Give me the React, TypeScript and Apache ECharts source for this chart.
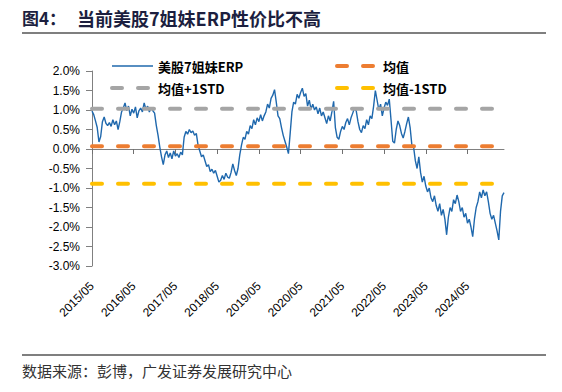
import React, { useEffect, useRef } from "react";
import * as echarts from "echarts";

// ---- data ----
const xTickLabels = [
  "2015/05", "2016/05", "2017/05", "2018/05", "2019/05",
  "2020/05", "2021/05", "2022/05", "2023/05", "2024/05",
];

// ERP of the "Magnificent 7" (%, semi-monthly readings from 2015/05)
const erpValues = [
  0.97, 0.88, 0.72, 0.55, 0.18, 0.32, 0.70, 0.82, 0.66, 0.60,
  0.68, 0.58, 0.75, 0.62, 0.72, 0.50, 0.70, 0.95, 1.05, 1.18,
  0.98, 1.10, 0.85, 1.02, 0.92, 1.08, 0.80, 0.98, 1.05, 0.95,
  1.18, 1.02, 1.10, 0.95, 1.06, 0.98, 0.92, 0.60, 0.35, 0.05,
  -0.20, -0.40, -0.15, -0.05, -0.22, -0.10, -0.25, -0.05, -0.18, -0.12,
  -0.22, -0.08, -0.15, 0.30, 0.45, 0.38, 0.50, 0.42, 0.46, 0.35,
  0.40, 0.10, -0.05, -0.20, -0.15, -0.30, -0.45, -0.40, -0.58, -0.52,
  -0.62, -0.55, -0.70, -0.85, -0.80, -0.68, -0.78, -0.62, -0.72, -0.75,
  -0.60, -0.38, -0.55, -0.68, -0.50, -0.15, 0.10, 0.30, 0.25, 0.45,
  0.38, 0.60, 0.52, 0.75, 0.62, 0.80, 0.70, 0.88, 0.72, 0.85,
  0.95, 1.15, 1.05, 1.30, 1.38, 1.52, 1.20, 0.85, 0.78, 0.55,
  0.35, 0.20, 0.05, -0.12, 0.40, 0.95, 1.20, 1.15, 1.40, 1.30,
  1.45, 1.56, 1.35, 1.42, 1.10, 1.25, 1.02, 1.15, 1.00, 1.08,
  0.90, 1.05, 0.85, 0.95, 0.80, 0.65, 0.85, 0.72, 0.95, 1.22,
  0.55, 0.30, 0.25, 0.45, 0.58, 0.50, 0.68, 0.78, 0.62, 0.80,
  0.92, 1.05, 0.98, 0.70, 0.50, 0.42, 0.60, 0.52, 0.75, 0.62,
  0.85, 0.78, 1.10, 1.50, 1.25, 1.00, 1.15, 0.85, 1.05, 1.20,
  1.12, 1.28, 0.75, 0.20, 0.15, 0.50, 0.72, 0.60, 0.40, 0.28,
  0.45, 0.65, 0.82, 0.55, 0.10, 0.05, -0.30, -0.50, -0.20, -0.60,
  -0.85, -0.70, -0.95, -1.10, -1.00, -1.25, -1.35, -1.20, -1.45, -1.60,
  -1.40, -1.70, -1.55, -1.80, -2.20, -1.75, -1.50, -1.60, -1.30, -1.40,
  -1.18, -1.35, -1.60, -1.50, -1.75, -1.65, -1.90, -1.80, -2.00, -2.25,
  -1.80, -1.50, -1.35, -1.10, -1.25, -1.05, -1.20, -1.10, -1.35, -1.65,
  -1.80, -1.70, -1.90, -2.10, -2.33, -1.60, -1.20, -1.12,
];

const MEAN = 0.07;
const MEAN_PLUS_STD = 1.03;
const MEAN_MINUS_STD = -0.89;

const seriesNames = ["美股7姐妹ERP", "均值", "均值+1STD", "均值-1STD"];
const seriesColors = ["#1f68ad", "#ed7d31", "#a5a5a5", "#ffc000"];

// semi-monthly date categories starting 2015/05
const categories: string[] = erpValues.map((_, i) => {
  const m = 4 + Math.floor(i / 2);
  const year = 2015 + Math.floor(m / 12);
  const month = (m % 12) + 1;
  const day = i % 2 === 0 ? "01" : "15";
  return `${year}/${String(month).padStart(2, "0")}/${day}`;
});

const FONT = "'Liberation Sans', Arial, 'Noto Sans CJK SC', sans-serif";
const CJK = "'Noto Sans CJK SC', 'Liberation Sans', sans-serif";

export default function App() {
  const ref = useRef<HTMLDivElement>(null);

  useEffect(() => {
    if (!ref.current) return;
    const chart = echarts.init(ref.current, undefined, { renderer: "svg" });

    const dashStyle = (color: string) => ({
      color,
      width: 4,
      type: [10, 16] as number[],
      cap: "round" as const,
    });

    const flat = (v: number) => categories.map(() => v);

    const legendCommon = {
      orient: "vertical",
      top: 58,
      padding: 0,
      itemWidth: 41,
      itemHeight: 16,
      itemGap: 6,
      itemStyle: { opacity: 0 },
      textStyle: { fontSize: 13, fontWeight: "bold", color: "#000", fontFamily: CJK, lineHeight: 16 },
    };

    const legendItem = (i: number) =>
      i === 0
        ? { name: seriesNames[0], lineStyle: { color: seriesColors[0], width: 1.5, type: "solid" } }
        : { name: seriesNames[i], lineStyle: dashStyle(seriesColors[i]) };

    chart.setOption({
      animation: false,
      backgroundColor: "#ffffff",
      grid: { left: 92, right: 58, top: 71, bottom: 126, containLabel: false },
      legend: [
        { ...legendCommon, data: [legendItem(0), legendItem(2)], left: 110 },
        { ...legendCommon, data: [legendItem(1), legendItem(3)], left: 335 },
      ],
      xAxis: [
        {
          type: "category",
          data: categories,
          boundaryGap: false,
          position: "bottom",
          axisLine: { show: false, onZero: false },
          axisTick: { show: false },
          splitLine: { show: false },
          axisLabel: {
            interval: 23,
            rotate: 45,
            margin: 18,
            fontSize: 12,
            color: "#000",
            fontFamily: FONT,
            formatter: (_v: string, idx: number) =>
              idx % 24 === 0 ? xTickLabels[idx / 24] ?? "" : "",
          },
        },
        {
          type: "category",
          data: categories,
          boundaryGap: false,
          position: "top",
          axisLine: { show: true, onZero: true, lineStyle: { color: "#808080", width: 1 } },
          axisTick: { show: true, inside: true, interval: 23, length: 5, lineStyle: { color: "#707070", width: 1 } },
          axisLabel: { show: false },
          splitLine: { show: false },
        },
      ],
      yAxis: {
        type: "value",
        min: -3,
        max: 2,
        interval: 0.5,
        axisLine: { show: true, lineStyle: { color: "#808080", width: 1 } },
        axisTick: { show: true, length: 6, lineStyle: { color: "#808080" } },
        splitLine: { show: false },
        axisLabel: {
          margin: 12,
          fontSize: 12,
          color: "#000",
          fontFamily: FONT,
          formatter: (v: number) => `${v.toFixed(1)}%`,
        },
      },
      series: [
        {
          name: seriesNames[0],
          type: "line",
          data: erpValues,
          symbol: "none",
          lineStyle: { color: seriesColors[0], width: 1.4 },
          itemStyle: { color: seriesColors[0] },
          z: 2,
        },
        {
          name: seriesNames[1],
          type: "line",
          data: flat(MEAN),
          symbol: "none",
          lineStyle: dashStyle(seriesColors[1]),
          itemStyle: { color: seriesColors[1] },
          z: 3,
        },
        {
          name: seriesNames[2],
          type: "line",
          data: flat(MEAN_PLUS_STD),
          symbol: "none",
          lineStyle: dashStyle(seriesColors[2]),
          itemStyle: { color: seriesColors[2] },
          z: 3,
        },
        {
          name: seriesNames[3],
          type: "line",
          data: flat(MEAN_MINUS_STD),
          symbol: "none",
          lineStyle: dashStyle(seriesColors[3]),
          itemStyle: { color: seriesColors[3] },
          z: 3,
        },
      ],
      graphic: [
        {
          type: "text",
          left: 22,
          top: 9,
          style: { text: "图4：", fontSize: 17, fontWeight: "bold", fill: "#1c1f3f", fontFamily: CJK },
        },
        {
          type: "text",
          left: 77,
          top: 9,
          style: { text: "当前美股7姐妹ERP性价比不高", fontSize: 18, fontWeight: "bold", fill: "#1c1f3f", fontFamily: CJK },
        },
        {
          type: "line",
          shape: { x1: 22, y1: 33, x2: 546, y2: 33 },
          style: { stroke: "#000", lineWidth: 1.2 },
        },
        {
          type: "line",
          shape: { x1: 22, y1: 355, x2: 546, y2: 355 },
          style: { stroke: "#000", lineWidth: 1.2 },
        },
        {
          type: "text",
          left: 22,
          top: 363,
          style: { text: "数据来源：彭博，广发证券发展研究中心", fontSize: 15, fill: "#333", fontFamily: CJK },
        },
      ],
    });

    return () => chart.dispose();
  }, []);

  return (
    <div
      ref={ref}
      style={{ position: "fixed", left: 0, top: 0, width: 562, height: 392 }}
    />
  );
}
